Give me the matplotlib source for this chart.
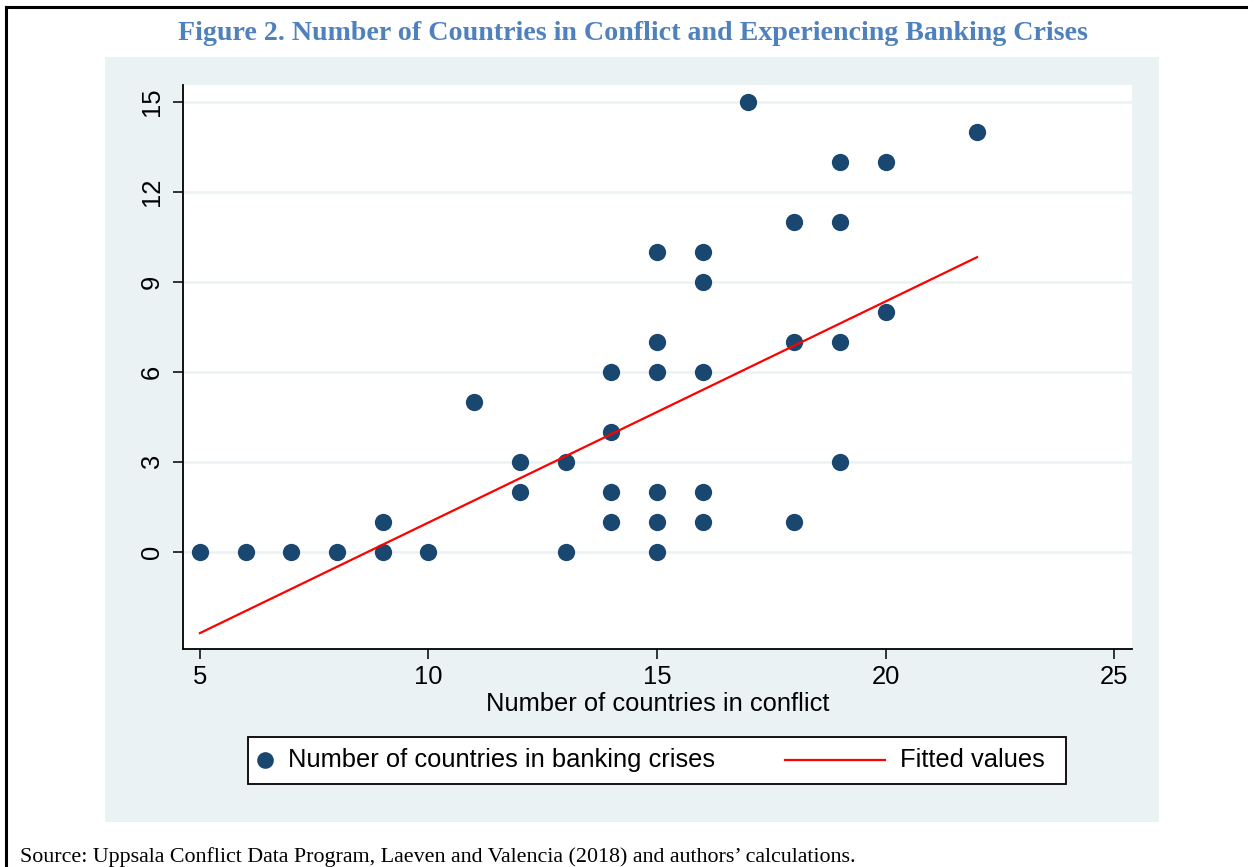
import matplotlib
matplotlib.use("Agg")
import matplotlib.pyplot as plt
from matplotlib.patches import Rectangle
from matplotlib.lines import Line2D

# ---- data ----
conflict = [5, 6, 7, 8, 9, 9, 10, 11, 12, 12, 13, 13, 14, 14, 14, 14,
            15, 15, 15, 15, 15, 15, 16, 16, 16, 16, 16, 17, 18, 18, 18,
            19, 19, 19, 19, 20, 20, 22]
crises = [0, 0, 0, 0, 0, 1, 0, 5, 3, 2, 3, 0, 6, 4, 2, 1,
          10, 7, 6, 2, 1, 0, 10, 9, 6, 2, 1, 15, 11, 7, 1,
          13, 11, 7, 3, 13, 8, 14]
fit_x = [5, 22]
fit_y = [-2.70, 9.83]
x_ticks = [5, 10, 15, 20, 25]
y_ticks = [0, 3, 6, 9, 12, 15]

title = "Figure 2. Number of Countries in Conflict and Experiencing Banking Crises"
xlabel = "Number of countries in conflict"
legend_labels = ["Number of countries in banking crises", "Fitted values"]
source = "Source: Uppsala Conflict Data Program, Laeven and Valencia (2018) and authors\u2019 calculations."

# ---- styles ----
W, H = 1255, 867
BG = "#EAF2F3"
NAVY = "#1A476F"
RED = "#FF0000"
TITLE_C = "#4F81BD"
SANS = ["Liberation Sans", "DejaVu Sans"]
SERIF = ["Liberation Serif", "DejaVu Serif"]
FS = 18.4

def fx(px):
    return px / W

def fy(py):
    return 1 - py / H

fig = plt.figure(figsize=(W / 100, H / 100), dpi=100)
fig.patch.set_facecolor("white")

# outer frame (top + left)
fig.add_artist(Line2D([fx(6), fx(1246)], [fy(7), fy(7)], transform=fig.transFigure,
                      color="black", lw=2.2))
fig.add_artist(Line2D([fx(6), fx(6)], [fy(7), fy(867)], transform=fig.transFigure,
                      color="black", lw=2.2))

# graph panel background
fig.add_artist(Rectangle((fx(105), fy(822)), fx(1159) - fx(105), fy(57) - fy(822),
                         transform=fig.transFigure, facecolor=BG, edgecolor="none", zorder=0))

# title
fig.text(fx(633), fy(34), title, ha="center", va="center", fontsize=20.2,
         fontweight="bold", color=TITLE_C, family=SERIF)

# axes
L, R, T, B = 183, 1132, 85, 649
ax = fig.add_axes([fx(L), fy(B), fx(R) - fx(L), fy(T) - fy(B)])
ax.set_facecolor("white")
ax.set_xlim(4.63, 25.39)
ax.set_ylim(-3.23, 15.57)

for y in y_ticks:
    ax.axhline(y, color=BG, lw=1.8, zorder=1)

ax.scatter(conflict, crises, s=155, color=NAVY, zorder=3, linewidths=0)
ax.plot(fit_x, fit_y, color=RED, lw=1.6, zorder=4)

for s in ["top", "right"]:
    ax.spines[s].set_visible(False)
for s in ["left", "bottom"]:
    ax.spines[s].set_linewidth(1.3)
    ax.spines[s].set_color("black")

ax.set_xticks(x_ticks)
ax.set_yticks(y_ticks)
ax.set_xticklabels([str(v) for v in x_ticks], fontsize=FS, family=SANS)
ax.set_yticklabels([str(v) for v in y_ticks], fontsize=FS, family=SANS,
                   rotation=90, va="center")
ax.tick_params(axis="both", direction="out", length=7.5, width=1.1, color="black")
ax.tick_params(axis="x", pad=4)
ax.tick_params(axis="y", pad=6)
ax.set_xlabel(xlabel, fontsize=FS, family=SANS, labelpad=2)

# legend (drawn manually to mimic Stata layout)
fig.add_artist(Rectangle((fx(248), fy(784)), fx(1066) - fx(248), fy(737) - fy(784),
                         transform=fig.transFigure, facecolor="white",
                         edgecolor="black", lw=1.3, zorder=2))
ly = fy(760)
fig.add_artist(Line2D([fx(265)], [ly], transform=fig.transFigure, marker="o",
                      markersize=12, color=NAVY, markeredgewidth=0, zorder=3))
fig.text(fx(288), ly, legend_labels[0], ha="left", va="center", fontsize=FS,
         family=SANS, zorder=3)
fig.add_artist(Line2D([fx(785), fx(885)], [ly, ly], transform=fig.transFigure,
                      color=RED, lw=1.6, zorder=3))
fig.text(fx(900), ly, legend_labels[1], ha="left", va="center", fontsize=FS,
         family=SANS, zorder=3)

# source note
fig.text(fx(20), fy(857), source, ha="left", va="center", fontsize=15.8, family=SERIF)

fig.savefig("out.png", dpi=100)
